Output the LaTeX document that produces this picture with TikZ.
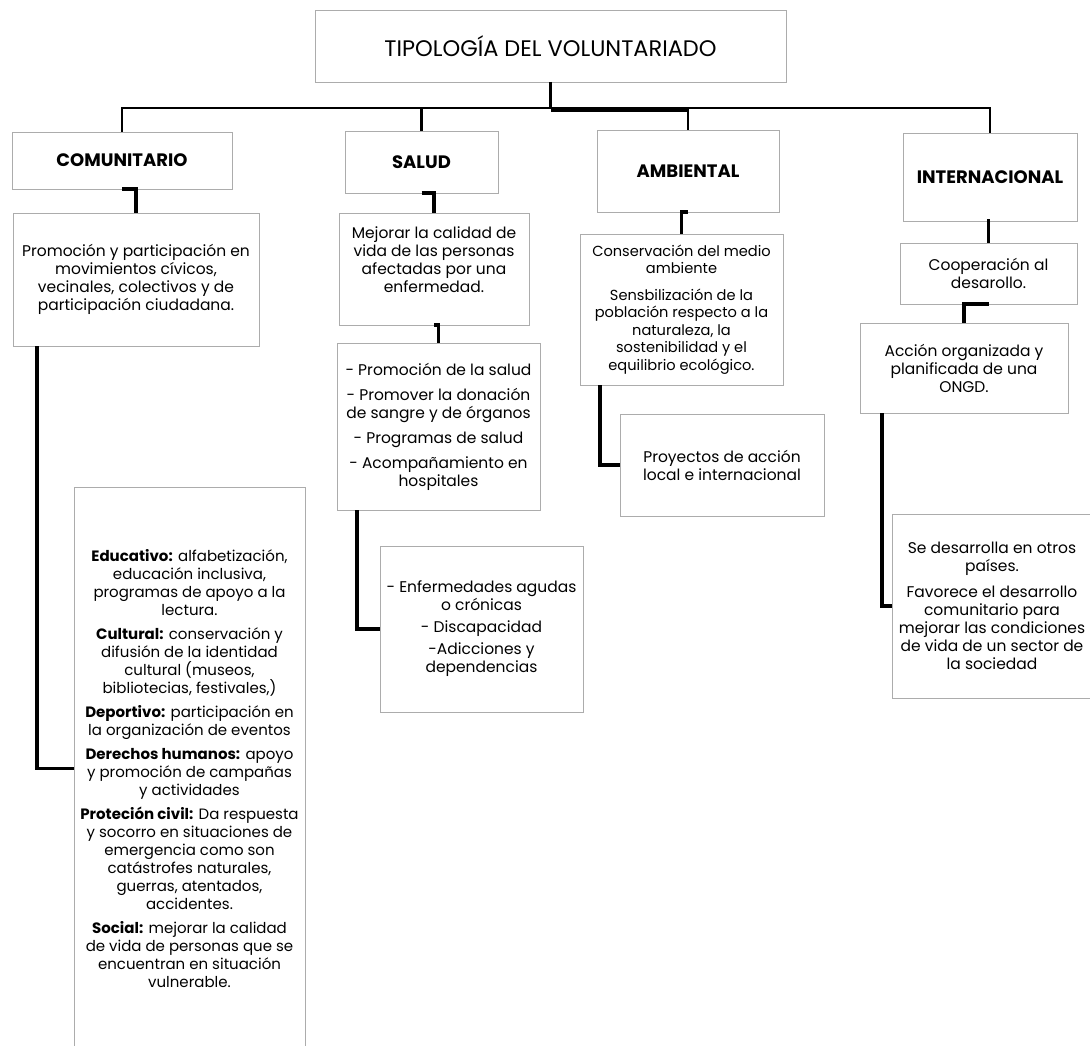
\documentclass[tikz,border=0pt]{standalone}
\usepackage{fontspec}
\setmainfont{Poppins}
\usetikzlibrary{shadows}

\begin{document}
\begin{tikzpicture}[x=1pt,y=-1pt]
	\tikzstyle{caja}=[draw=gray!65,line width=0.8pt,fill=white,inner sep=0pt,outer sep=0pt,align=center,
		drop shadow={shadow xshift=1.3pt,shadow yshift=-1.3pt,opacity=0.3},
		font=\fontsize{15.5}{18}\selectfont]
	\tikzstyle{rama}=[caja,font=\fontsize{18}{20}\selectfont\bfseries]
	\tikzstyle{barra}=[line width=2.6pt]
	\tikzstyle{linea}=[line width=3.2pt]
	\useasboundingbox (0,0) rectangle (1090,1046);

	% raiz y ramas
	\node[caja,minimum width=471,minimum height=72,font=\fontsize{22.5}{24}\selectfont] (raiz) at (550.5,46) {TIPOLOGÍA DEL VOLUNTARIADO};
	\node[rama,minimum width=220,minimum height=57] (com) at (122,160.5) {COMUNITARIO};
	\node[rama,minimum width=153,minimum height=62] (sal) at (421.5,162) {SALUD};
	\node[rama,minimum width=182,minimum height=82] (amb) at (688,171) {AMBIENTAL};
	\node[rama,minimum width=174,minimum height=88] (int) at (990,177) {INTERNACIONAL};
	\coordinate (bar) at (0,108);

	% comunitario
	\node[caja,minimum width=246,minimum height=133] (com1) at (136,279.5) {Promoción y participación en\\ movimientos cívicos,\\ vecinales, colectivos y de\\ participación ciudadana.};
	\node[caja,minimum width=231,minimum height=563,font=\fontsize{15}{18}\selectfont] (com2) at (189.5,768.5) {\textbf{Educativo:} alfabetización,\\ educación inclusiva,\\ programas de apoyo a la\\ lectura.\\[6pt]
		\textbf{Cultural:} conservación y\\ difusión de la identidad\\ cultural (museos,\\ bibliotecias, festivales,)\\[6pt]
		\textbf{Deportivo:} participación en\\ la organización de eventos\\[6pt]
		\textbf{Derechos humanos:} apoyo\\ y promoción de campañas\\ y actividades\\[6pt]
		\textbf{Proteción civil:} Da respuesta\\ y socorro en situaciones de\\ emergencia como son\\ catástrofes naturales,\\ guerras, atentados,\\ accidentes.\\[6pt]
		\textbf{Social:} mejorar la calidad\\ de vida de personas que se\\ encuentran en situación\\ vulnerable.};

	% salud
	\node[caja,minimum width=190,minimum height=112] (sal1) at (434,269) {Mejorar la calidad de\\ vida de las personas\\ afectadas por una\\ enfermedad.\\ \mbox{}};
	\node[caja,minimum width=203,minimum height=167] (sal2) at (438.5,426.5) {- Promoción de la salud\\[7pt] - Promover la donación\\ de sangre y de órganos\\[7pt] - Programas de salud\\[7pt] - Acompañamiento en\\ hospitales};
	\node[caja,minimum width=203,minimum height=166] (sal3) at (481.5,629) {- Enfermedades agudas\\ o crónicas\\[4pt] - Discapacidad\\[4pt] -Adicciones y\\ dependencias};

	% ambiental
	\node[caja,minimum width=203,minimum height=151,font=\fontsize{14.6}{17.5}\selectfont] (amb1) at (681.5,309.5) {Conservación del medio\\ ambiente\\[9pt] Sensbilización de la\\ población respecto a la\\ naturaleza, la\\ sostenibilidad y el\\ equilibrio ecológico.};
	\node[caja,minimum width=204,minimum height=102] (amb2) at (722,465) {Proyectos de acción\\ local e internacional};

	% internacional
	\node[caja,minimum width=177,minimum height=61] (int1) at (988.5,273.5) {Cooperación al\\ desarollo.};
	\node[caja,minimum width=208,minimum height=90] (int2) at (964,368) {Acción organizada y\\ planificada de una\\ ONGD.};
	\node[caja,minimum width=200,minimum height=184] (int3) at (992,606) {Se desarrolla en otros\\ países.\\[8pt] Favorece el desarrollo\\ comunitario para\\ mejorar las condiciones\\ de vida de un sector de\\ la sociedad};

	% conectores
	\draw[barra] (raiz.south) -- (raiz.south |- bar);
	\draw[barra] (com.north) -- (com.north |- bar) -- (int.north |- bar) -- (int.north);
	\draw[barra] (sal.north) -- (sal.north |- bar);
	\draw[barra] (amb.north) -- (amb.north |- bar);
	\draw[line width=4.5pt] ([yshift=-1.5pt]raiz.south |- bar) -- ([yshift=-1.5pt]amb.north |- bar);

	\draw[linea] (com.south) -| (com1.north);
	\draw[linea] ([xshift=24pt]com1.south west) |- (com2.west);
	\draw[linea] (sal.south) -| (sal1.north);
	\draw[linea] (sal1.south) -| (sal2.north);
	\draw[linea] ([xshift=20pt]sal2.south west) |- (sal3.west);
	\draw[linea] (amb.south) -| (amb1.north);
	\draw[linea] ([xshift=20pt]amb1.south west) |- (amb2.west);
	\draw[linea] (int.south) -| (int1.north);
	\draw[linea] (int1.south) -| (int2.north);
	\draw[linea] ([xshift=22pt]int2.south west) |- (int3.west);
\end{tikzpicture}
\end{document}
